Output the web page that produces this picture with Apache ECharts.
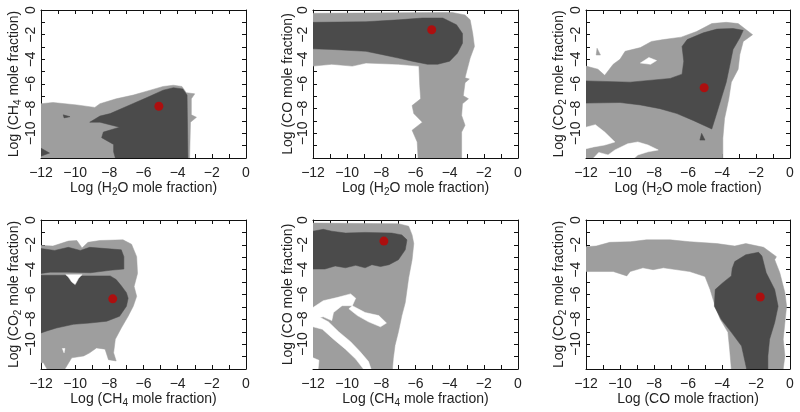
<!DOCTYPE html>
<html><head><meta charset="utf-8">
<script src="https://cdn.jsdelivr.net/npm/echarts@6/dist/echarts.min.js"></script>
<style>html,body{margin:0;padding:0;background:#fff}#c{width:800px;height:412px}</style>
</head><body><div id="c"></div>
<script>
// axis range and tick labels (log10 mole fraction)
const axisTicks = [-12, -10, -8, -6, -4, -2, 0];
const xNames = ['Log (H{s|2}O mole fraction)','Log (H{s|2}O mole fraction)','Log (H{s|2}O mole fraction)',
                'Log (CH{s|4} mole fraction)','Log (CH{s|4} mole fraction)','Log (CO mole fraction)'];
const yNames = ['Log (CH{s|4} mole fraction)','Log (CO mole fraction)','Log (CO{s|2} mole fraction)',
                'Log (CO{s|2} mole fraction)','Log (CO mole fraction)','Log (CO{s|2} mole fraction)'];

// best-fit points (red dots)
const bestFit = [[-5.1,-7.8],[-5.05,-1.6],[-5.05,-6.3],[-7.8,-6.35],[-7.85,-1.7],[-1.75,-6.2]];

// Panel 1: CH4 vs H2O contours
const p1Light = [[-12,-7.6],[-11.3,-7.5],[-9.9,-7.7],[-8.85,-7.9],[-8.55,-7.6],[-7.6,-7.2],[-6.6,-6.9],[-5.6,-6.5],[-4.85,-6.2],[-4.25,-6.1],[-3.75,-6.2],[-3.5,-6.7],[-3.0,-6.8],[-3.2,-7.2],[-3.2,-8.5],[-2.9,-8.7],[-3.25,-9.1],[-3.3,-12],[-12,-12]];
const p1Dark = [[-3.7,-6.4],[-3.45,-6.9],[-3.4,-12],[-7.65,-12],[-7.75,-11.5],[-7.75,-10.9],[-8.45,-10.35],[-8.35,-9.9],[-7.4,-9.5],[-8.55,-9.1],[-9.15,-9.1],[-8.55,-8.6],[-7.95,-8.4],[-6.8,-7.7],[-5.8,-7.1],[-4.85,-6.5],[-4.25,-6.3]];
const p1DarkA = [[-10.7,-8.5],[-10.3,-8.65],[-10.65,-8.75]];
const p1DarkB = [[-12,-11.2],[-11.5,-11.6],[-12,-11.85]];

// Panel 2: CO vs H2O
const p2Light = [[-12,-0.27],[-3.85,-0.2],[-3.1,-0.4],[-2.8,-0.8],[-2.65,-1.9],[-2.55,-2.95],[-2.8,-3.9],[-3.0,-4.95],[-3.1,-5.5],[-2.85,-5.6],[-3.1,-5.9],[-3.2,-6.95],[-2.9,-7.2],[-3.25,-7.6],[-3.3,-8.55],[-3.1,-9.35],[-3.3,-9.9],[-3.3,-12],[-5.85,-12],[-5.9,-10.7],[-6.2,-9.75],[-5.6,-9.1],[-6.1,-8.4],[-6.2,-7.75],[-5.7,-7.2],[-5.75,-6.15],[-5.8,-4.55],[-7.0,-4.4],[-8.9,-4.3],[-9.7,-4.55],[-10.9,-4.4],[-12,-4.55]];
const p2Dark = [[-12,-1.0],[-8.9,-0.95],[-7.0,-0.8],[-5.6,-0.65],[-4.4,-0.65],[-3.6,-1.2],[-3.25,-1.9],[-3.25,-2.7],[-3.55,-3.5],[-4.0,-4.15],[-4.7,-4.4],[-5.3,-4.4],[-6.2,-4.15],[-7.0,-3.9],[-8.0,-3.6],[-8.9,-3.35],[-10.9,-3.2],[-12,-3.15]];

// Panel 3: CO2 vs H2O
const p3Light = [[-12,-4.55],[-11.3,-4.8],[-10.9,-5.3],[-10.4,-4.4],[-10.0,-4.0],[-9.7,-3.35],[-8.8,-3.05],[-8.15,-2.55],[-7.45,-2.4],[-6.4,-2.2],[-5.5,-1.75],[-4.6,-1.1],[-3.75,-1.0],[-3.05,-1.1],[-2.2,-2.0],[-2.75,-2.55],[-2.95,-3.6],[-3.05,-4.8],[-3.45,-5.85],[-3.6,-7.2],[-3.85,-8.8],[-3.95,-10.4],[-3.95,-12],[-12,-12]];
const p3LightA = [[-11.35,-3.1],[-11.15,-3.65],[-11.4,-3.65]];
const p3HoleA = [[-8.8,-4.3],[-8.3,-3.85],[-7.85,-4.1],[-8.2,-4.4]];
const p3HoleB = [[-12,-9.5],[-11.45,-9.3],[-10.9,-9.9],[-10.3,-10.7],[-10.9,-10.95],[-11.55,-11.1],[-12,-11.25]];
const p3HoleC = [[-11.55,-12],[-11.25,-11.55],[-10.7,-11.75],[-10.3,-11.35],[-9.55,-10.85],[-8.95,-10.7],[-8.35,-10.95],[-7.75,-11.35],[-8.35,-11.5],[-8.95,-11.75],[-9.15,-12]];
const p3Dark = [[-12,-5.75],[-9.4,-5.85],[-7.05,-5.55],[-6.35,-5.2],[-6.25,-4.15],[-6.35,-2.95],[-6.05,-2.4],[-5.1,-1.85],[-4.3,-1.55],[-3.35,-1.5],[-2.75,-1.65],[-2.95,-2.25],[-3.35,-3.2],[-3.55,-4.55],[-3.75,-5.85],[-4.05,-7.2],[-4.35,-8.55],[-4.6,-9.65],[-5.7,-8.95],[-6.65,-8.4],[-7.65,-8.0],[-8.8,-7.7],[-10.0,-7.5],[-12,-7.55]];
const p3DarkA = [[-5.2,-10.0],[-5.0,-10.55],[-5.3,-10.55]];

// Panel 4: CO2 vs CH4
const p4Light = [[-12,-2.05],[-11.3,-2.1],[-10.4,-1.7],[-9.9,-1.65],[-9.6,-2.25],[-9.25,-1.8],[-8.55,-1.65],[-7.2,-1.6],[-6.7,-1.95],[-6.4,-2.95],[-6.35,-4.3],[-6.55,-5.35],[-6.4,-6.15],[-6.6,-6.95],[-6.9,-7.75],[-7.3,-8.7],[-7.65,-9.6],[-7.75,-10.7],[-7.6,-11.35],[-8.05,-11.25],[-8.25,-10.4],[-8.75,-10.3],[-9.15,-10.7],[-9.5,-10.95],[-10.2,-11.1],[-10.6,-12],[-11.65,-12],[-11.85,-11.5],[-12,-11.5]];
const p4HoleA = [[-10.75,-10.35],[-10.6,-10.35],[-10.65,-10.7]];
const p4DarkA = [[-12,-2.3],[-11.2,-2.45],[-10.4,-2.2],[-9.7,-2.45],[-9.15,-2.2],[-7.3,-2.4],[-7.15,-2.95],[-7.15,-3.95],[-7.95,-4.05],[-9.1,-4.25],[-10.5,-4.2],[-11.45,-4.2],[-12,-4.3]];
const p4DarkB = [[-12,-4.45],[-10.5,-4.45],[-9.6,-4.5],[-7.95,-4.5],[-7.6,-4.8],[-7.3,-5.3],[-7.0,-5.85],[-6.9,-6.3],[-7.0,-6.95],[-7.4,-7.75],[-8.15,-8.15],[-9.15,-8.3],[-10.1,-8.4],[-11.1,-8.7],[-11.7,-8.95],[-12,-9.1]];
const p4HoleB = [[-10.55,-4.4],[-9.6,-4.4],[-9.8,-4.7],[-10.0,-5.2],[-10.2,-5.0],[-10.4,-4.6]];

// Panel 5: CO vs CH4
const p5Light = [[-12,-0.25],[-7.0,-0.3],[-6.4,-0.5],[-6.2,-1.2],[-6.1,-1.9],[-6.2,-3.2],[-6.4,-4.65],[-6.6,-6.65],[-6.8,-7.7],[-7.0,-9.0],[-7.2,-10.1],[-7.3,-11.15],[-7.35,-12],[-12,-12]];
const p5HoleA = [[-12,-7.05],[-11.4,-6.5],[-10.6,-6.25],[-9.8,-5.95],[-9.5,-6.3],[-9.7,-6.9],[-10.3,-6.9],[-10.8,-7.45],[-10.9,-8.1],[-11.4,-7.8],[-12,-7.95]];
const p5HoleB = [[-11.65,-7.8],[-11.1,-8.2],[-10.5,-9.0],[-9.8,-9.8],[-9.25,-10.6],[-8.75,-11.4],[-8.6,-12],[-9.05,-12],[-9.5,-11.2],[-10.1,-10.4],[-10.8,-9.6],[-11.45,-8.8],[-12,-8.6],[-12,-7.9]];
const p5HoleC = [[-9.7,-6.9],[-8.95,-7.45],[-8.15,-7.7],[-7.7,-8.3],[-8.05,-8.6],[-8.75,-8.2],[-9.4,-7.7],[-9.9,-7.15]];
const p5HoleD = [[-12,-11.1],[-11.65,-11.3],[-11.7,-12],[-12,-12]];
const p5Dark = [[-12,-0.9],[-11.4,-0.75],[-10.9,-0.9],[-10.1,-1.05],[-8.95,-1.0],[-7.4,-1.05],[-6.8,-1.2],[-6.5,-1.6],[-6.6,-2.4],[-7.0,-3.2],[-7.55,-3.6],[-8.05,-3.75],[-8.55,-3.6],[-8.95,-3.85],[-9.5,-3.65],[-10.1,-3.85],[-10.7,-3.7],[-11.3,-3.95],[-12,-3.95]];

// Panel 6: CO2 vs CO
const p6Light = [[-12,-2.15],[-11.4,-2.1],[-10.6,-1.8],[-9.4,-1.75],[-8.45,-1.6],[-7.05,-1.6],[-5.9,-1.75],[-4.3,-1.9],[-3.25,-2.1],[-2.6,-1.9],[-1.55,-2.2],[-0.8,-2.95],[-0.9,-3.2],[-0.6,-4.25],[-0.3,-5.85],[-0.2,-6.95],[-0.3,-8.25],[-0.4,-9.6],[-0.3,-10.95],[-0.4,-12],[-3.45,-12],[-3.55,-10.4],[-3.65,-9.05],[-4.1,-8.0],[-4.4,-6.95],[-4.7,-5.6],[-5.0,-4.55],[-5.9,-4.15],[-7.45,-3.85],[-8.05,-4.0],[-8.65,-3.85],[-9.4,-4.15],[-9.6,-4.5],[-10.4,-4.15],[-12,-4.15]];
const p6Dark = [[-3.25,-3.35],[-2.6,-2.8],[-1.85,-2.6],[-1.65,-2.9],[-1.4,-4.25],[-0.9,-5.6],[-0.7,-6.95],[-0.9,-8.25],[-1.2,-9.6],[-1.3,-10.95],[-1.3,-12],[-2.55,-12],[-2.85,-10.15],[-3.45,-9.05],[-4.05,-8.0],[-4.45,-6.95],[-4.4,-5.6],[-3.95,-5.05],[-3.45,-4.5],[-3.4,-3.9]];

const LIGHT = '#9e9e9e', DARK = '#4b4b4b', WHITE = '#ffffff', RED = '#c40000';
const panelShapes = [
  [[p1Light,LIGHT],[p1Dark,DARK],[p1DarkA,DARK],[p1DarkB,DARK]],
  [[p2Light,LIGHT],[p2Dark,DARK]],
  [[p3Light,LIGHT],[p3LightA,LIGHT],[p3HoleA,WHITE],[p3HoleB,WHITE],[p3HoleC,WHITE],[p3Dark,DARK],[p3DarkA,DARK]],
  [[p4Light,LIGHT],[p4HoleA,WHITE],[p4DarkA,DARK],[p4DarkB,DARK],[p4HoleB,WHITE]],
  [[p5Light,LIGHT],[p5HoleA,WHITE],[p5HoleB,WHITE],[p5HoleC,WHITE],[p5HoleD,WHITE],[p5Dark,DARK]],
  [[p6Light,LIGHT],[p6Dark,DARK]]
];

const gridPos = [
  {left:41, top:10, width:205, height:148},
  {left:313, top:10, width:205, height:148},
  {left:586, top:10, width:204, height:148},
  {left:41, top:220, width:205, height:149},
  {left:313, top:220, width:205, height:149},
  {left:586, top:220, width:204, height:149}
];

const FONT = 'Liberation Sans, Arial, Helvetica, sans-serif';
const rich = {
  n: {fontSize:14, fontFamily:FONT, color:'#222', lineHeight:18},
  s: {fontSize:10, fontFamily:FONT, color:'#222', verticalAlign:'bottom', lineHeight:10}
};
function richName(str){ return str.replace(/([^{}]+)(?=\{|$)/g, m => '{n|'+m+'}'); }
const fmtTick = v => (v < 0 ? '\u2212' + Math.abs(v) : String(v));

const grids=[], xAxes=[], yAxes=[], series=[];
const tickMin = axisTicks[0], tickMax = axisTicks[axisTicks.length-1], tickStep = axisTicks[1]-axisTicks[0];
const axisCommon = {
  min: tickMin, max: tickMax, interval: tickStep,
  axisLine: {show:true, onZero:false, lineStyle:{color:'#111', width:1}},
  axisTick: {show:true, inside:true, length:4, lineStyle:{color:'#111'}},
  minorTick: {show:true, splitNumber:2, length:4, lineStyle:{color:'#111'}},
  splitLine: {show:false}
};
for (let i=0;i<6;i++){
  grids.push(Object.assign({show:false, containLabel:false, outerBoundsMode:'none'}, gridPos[i]));
  xAxes.push(Object.assign({}, axisCommon, {
    type:'value', gridIndex:i, position:'bottom',
    name: richName(xNames[i]), nameLocation:'middle', nameGap:21,
    nameTextStyle:{rich},
    axisLabel:{show:true, fontSize:14, fontFamily:FONT, color:'#222', margin:8, showMinLabel:true, showMaxLabel:true, formatter:fmtTick}
  }));
  xAxes.push(Object.assign({}, axisCommon, {
    type:'value', gridIndex:i, position:'top', axisLabel:{show:false}
  }));
  yAxes.push(Object.assign({}, axisCommon, {
    type:'value', gridIndex:i, position:'left',
    name: richName(yNames[i]), nameLocation:'middle', nameGap:15, nameRotate:90,
    nameTextStyle:{rich},
    axisLabel:{show:true, rotate:90, fontSize:14, fontFamily:FONT, color:'#222', margin:3, showMinLabel:false, showMaxLabel:true, formatter:fmtTick}
  }));
  yAxes.push(Object.assign({}, axisCommon, {
    type:'value', gridIndex:i, position:'right', axisLabel:{show:false}
  }));
  const shapes = panelShapes[i];
  series.push({
    type:'custom', xAxisIndex:2*i, yAxisIndex:2*i, clip:true, silent:true,
    data: shapes.map((s,k)=>[-6,-6,k]),
    encode:{x:0, y:1},
    renderItem: (function(shapes){ return function(params, api){
      const sh = shapes[params.dataIndex];
      const pts = sh[0].map(p => api.coord(p));
      return {type:'polygon', shape:{points:pts}, style:{fill:sh[1], stroke:sh[1], lineWidth:0.5}};
    };})(shapes),
    z:2
  });
  series.push({
    type:'scatter', xAxisIndex:2*i, yAxisIndex:2*i, data:[bestFit[i]],
    symbolSize:9, itemStyle:{color:RED}, z:5, silent:true
  });
}

const chart = echarts.init(document.getElementById('c'), null, {renderer:'canvas'});
chart.setOption({animation:false, backgroundColor:'#fff', grid:grids, xAxis:xAxes, yAxis:yAxes, series});
</script></body></html>
